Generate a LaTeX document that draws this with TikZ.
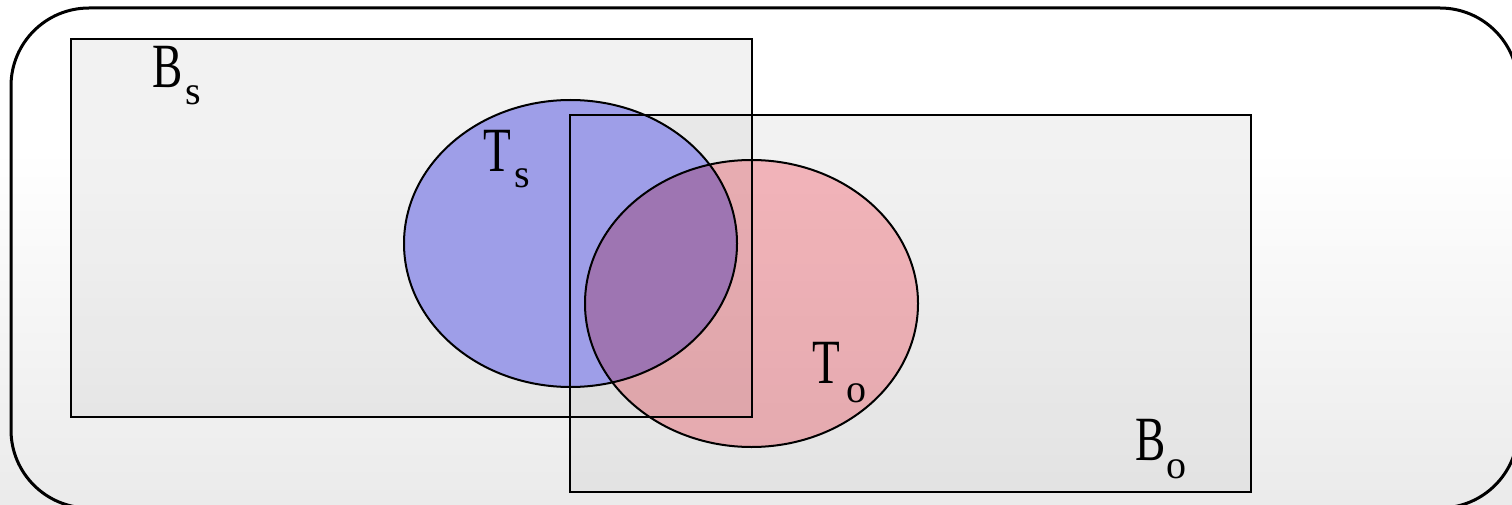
\documentclass[tikz,border=0pt]{standalone}
\usepackage{graphicx}
\usepackage{fontspec}
\setmainfont{Liberation Serif}
\definecolor{tsblue}{RGB}{158,158,232}
\definecolor{tored}{RGB}{255,190,196}
\newcommand{\bigletter}[1]{\fontsize{63}{63}\selectfont\scalebox{0.72}[1]{#1}}
\newcommand{\subletter}[1]{\fontsize{40}{40}\selectfont #1}
\begin{document}
\begin{tikzpicture}[x=1pt,y=-1pt,
  rectfill/.style={fill=black!22, fill opacity=0.22},
  bluefill/.style={fill=tsblue},
  redfill/.style={fill=tored},
  outline/.style={draw=black, line width=2.8pt},
  ellline/.style={draw=black, line width=2pt},
  lab/.style={inner sep=0pt, anchor=base west, text=black}]
\useasboundingbox (0,0) rectangle (1512,505);
% background
\fill[white] (0,0) rectangle (1512,505);
\shade[top color=white, bottom color=black!8] (0,150) rectangle (1512,505);
% outer frame
\draw[line width=3pt, rounded corners=78pt] (11,8) rectangle (1518,508);
% fills
\fill[rectfill] (71,39) rectangle (752,417);
\fill[rectfill] (570,115) rectangle (1251,492);
\fill[bluefill] (570.5,243.5) ellipse [x radius=166.5pt, y radius=143.5pt];
\begin{scope}[blend mode=multiply]
\fill[redfill] (751.5,303.5) ellipse [x radius=166.5pt, y radius=143.5pt];
\end{scope}
% outlines
\draw[outline] (71,39) rectangle (752,417);
\draw[outline] (570,115) rectangle (1251,492);
\draw[ellline] (570.5,243.5) ellipse [x radius=166.5pt, y radius=143.5pt];
\draw[ellline] (751.5,303.5) ellipse [x radius=166.5pt, y radius=143.5pt];
% labels
\node[lab] (bsB) at (152,88) {\bigletter{B}};
\node[lab] (bsS) at (185,105) {\subletter{s}};
\node[lab] (tsT) at (483,172) {\bigletter{T}};
\node[lab] (tsS) at (514,188) {\subletter{s}};
\node[lab] (toT) at (812,383) {\bigletter{T}};
\node[lab] (toO) at (846,402) {\subletter{o}};
\node[lab] (boB) at (1135,460) {\bigletter{B}};
\node[lab] (boO) at (1166,478) {\subletter{o}};
\end{tikzpicture}
\end{document}
